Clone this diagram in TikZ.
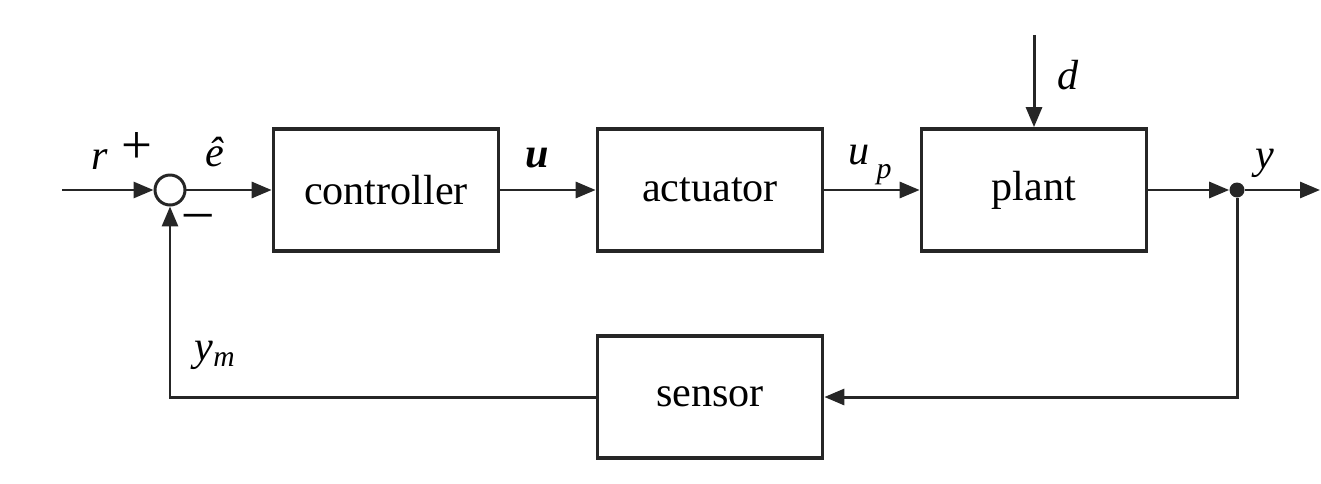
\documentclass[tikz,border=0pt]{standalone}
\usepackage{fontspec}
\setmainfont{Liberation Serif}
\usetikzlibrary{arrows.meta,positioning}

\begin{document}
\begin{tikzpicture}[
  font=\fontsize{24}{28}\selectfont,
  sig/.style={-{Triangle[length=4.0mm,width=3.2mm]}, line width=1.7pt, draw=black!85},
  blk/.style={draw=black!85, line width=2.1pt, minimum width=4.5cm, minimum height=2.44cm, inner sep=0pt},
  sumnode/.style={circle, draw=black!85, line width=1.7pt, minimum size=0.6cm, inner sep=0pt},
  tap/.style={circle, fill=black!85, minimum size=0.3cm, inner sep=0pt},
  lbl/.style={inner sep=1pt}
]
\useasboundingbox (0,0) rectangle (26.42,9.66);

\def\ymain{5.86}
\def\yfb{1.72}

% Blocks.
\node[sumnode] (sum) at (3.40,\ymain) {};
\node[blk] (ctrl) at (7.72,\ymain) {controller};
\node[blk] (act) at (14.20,\ymain) {actuator};
\node[blk] (plant) at (20.68,\ymain) {plant};
\node[blk] (sensor) at (14.20,\yfb) {sensor};
\node[tap] (branch) at (24.74,\ymain) {};

\coordinate (rin) at (1.24,\ymain);
\coordinate (yout) at (26.40,\ymain);
\coordinate (din) at (20.68,8.96);

% Forward path.
\draw[sig] (rin) -- (sum.west);
\draw[sig] (sum.east) -- (ctrl.west);
\draw[sig] (ctrl.east) -- (act.west);
\draw[sig] (act.east) -- (plant.west);
\draw[sig] (plant.east) -- (branch.west);
\draw[sig] (branch.east) -- (yout);
\draw[sig] (din) -- (plant.north);

% Feedback path.
\draw[sig] (branch.south) |- (sensor.east);
\draw[sig] (sensor.west) -| (sum.south);

% Signal labels.
\node[lbl] (rlbl) at (2.00,6.46) {\textit{r}};
\node[lbl, scale=1.3] (plus) at (2.74,6.70) {+};
\node[lbl, scale=1.3] (minus) at (3.96,5.24) {–};
\node[lbl] (elbl) at (4.30,6.62) {\textit{ê}};
\node[lbl] (ulbl) at (10.74,6.50) {\textit{\textbf{u}}};
\node[lbl] (uplbl) at (17.40,6.36) {\textit{u}\,\raisebox{-0.7ex}{\fontsize{17}{20}\selectfont\textit{p}}};
\node[lbl] (dlbl) at (21.36,8.16) {\textit{d}};
\node[lbl] (ylbl) at (25.30,6.40) {\textit{y}};
\node[lbl] (ymlbl) at (4.30,2.56) {\textit{y\textsubscript{m}}};

\end{tikzpicture}
\end{document}
